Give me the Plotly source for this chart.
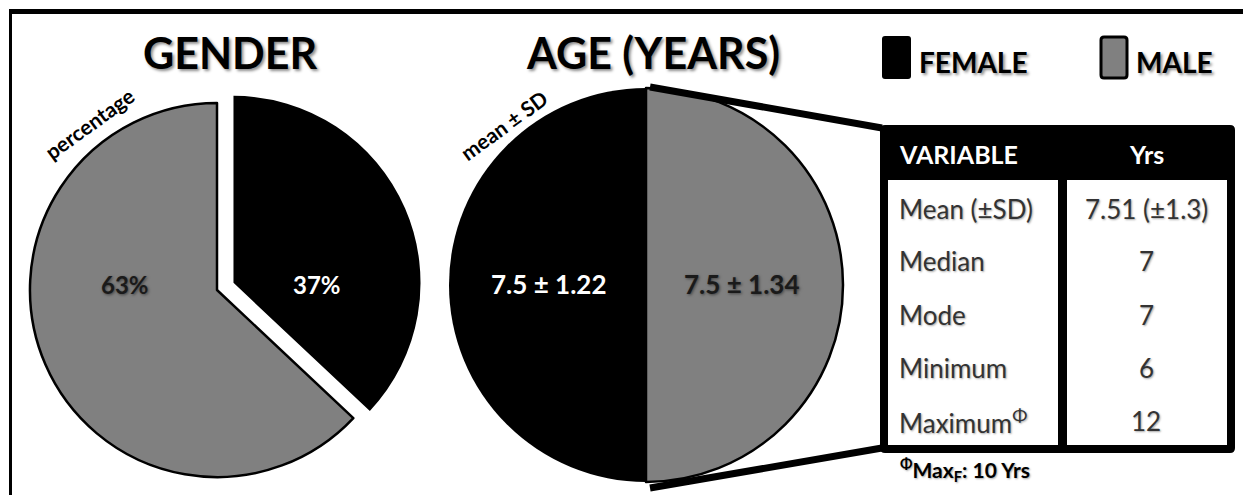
import plotly.graph_objects as go

# ---------------- data ----------------
gender_labels = ["FEMALE", "MALE"]
gender_pct = [37, 63]
age_labels = ["FEMALE", "MALE"]
age_mean = [7.5, 7.5]
age_sd = [1.22, 1.34]
table_header = ["VARIABLE", "Yrs"]
table_vars = ["Mean (±SD)", "Median", "Mode", "Minimum", "Maximum<sup>Φ</sup>"]
table_vals = ["7.51 (±1.3)", "7", "7", "6", "12"]
footnote = "<sup>Φ</sup>Max<sub>F</sub>: 10 Yrs"

FEMALE_C = "#000000"
MALE_C = "#808080"
FONT = "Lato"

W, H = 1243, 495


def X(p):
    return p / W


def Y(p):
    return 1 - p / H


fig = go.Figure()

# Gender pie (center ~ (217,290), r ~187, female slice pulled)
pull = 0.096
fig.add_trace(go.Pie(
    values=gender_pct, labels=gender_labels, sort=False, direction="clockwise",
    rotation=0, pull=[pull, 0], textinfo="none", showlegend=False,
    marker=dict(colors=[FEMALE_C, MALE_C], line=dict(color="black", width=[0, 2.5])),
    domain=dict(x=[X(12), X(422)], y=[Y(495), Y(85)]),
))

# Age pie (center ~ (646,285), r ~197); male drawn clockwise from 12 o'clock -> right half
fig.add_trace(go.Pie(
    values=age_mean[::-1], labels=age_labels[::-1], sort=False, direction="clockwise",
    rotation=0, textinfo="none", showlegend=False,
    marker=dict(colors=[MALE_C, FEMALE_C], line=dict(color="black", width=[2.5, 0])),
    domain=dict(x=[X(449), X(843)], y=[Y(482), Y(88)]),
))

shapes = []
ann = []

# outer frame
shapes.append(dict(type="line", xref="paper", yref="paper", x0=X(9), x1=X(1243), y0=Y(11.5), y1=Y(11.5),
                   line=dict(color="black", width=5)))
shapes.append(dict(type="line", xref="paper", yref="paper", x0=X(10.5), x1=X(10.5), y0=Y(10), y1=Y(495),
                   line=dict(color="black", width=3)))

# callout lines
shapes.append(dict(type="line", xref="paper", yref="paper", x0=X(650), y0=Y(87), x1=X(882), y1=Y(128),
                   line=dict(color="black", width=7), layer="above"))
shapes.append(dict(type="line", xref="paper", yref="paper", x0=X(650), y0=Y(488), x1=X(882), y1=Y(448),
                   line=dict(color="black", width=7), layer="above"))


def rrect(x0, y0, x1, y1, r):
    pts = (f"M {X(x0 + r)},{Y(y0)} L {X(x1 - r)},{Y(y0)} Q {X(x1)},{Y(y0)} {X(x1)},{Y(y0 + r)} "
           f"L {X(x1)},{Y(y1 - r)} Q {X(x1)},{Y(y1)} {X(x1 - r)},{Y(y1)} "
           f"L {X(x0 + r)},{Y(y1)} Q {X(x0)},{Y(y1)} {X(x0)},{Y(y1 - r)} "
           f"L {X(x0)},{Y(y0 + r)} Q {X(x0)},{Y(y0)} {X(x0 + r)},{Y(y0)} Z")
    return pts


# table frame
shapes.append(dict(type="path", xref="paper", yref="paper", path=rrect(880, 125, 1235, 453, 5),
                   fillcolor="black", line=dict(width=0), layer="above"))
shapes.append(dict(type="rect", xref="paper", yref="paper", x0=X(888), x1=X(1058), y0=Y(180), y1=Y(445),
                   fillcolor="white", line=dict(width=0), layer="above"))
shapes.append(dict(type="rect", xref="paper", yref="paper", x0=X(1067), x1=X(1227), y0=Y(180), y1=Y(445),
                   fillcolor="white", line=dict(width=0), layer="above"))

# legend squares
shapes.append(dict(type="path", xref="paper", yref="paper", path=rrect(882, 36, 911, 79, 3),
                   fillcolor=FEMALE_C, line=dict(width=0)))
shapes.append(dict(type="path", xref="paper", yref="paper", path=rrect(1101, 37, 1127, 78, 3),
                   fillcolor=MALE_C, line=dict(color="black", width=3)))

shadow = "2px 2px 3px rgba(0,0,0,0.45)"

# titles
ann.append(dict(text="<b>GENDER</b>", x=X(230), y=Y(52), font=dict(size=43, color="black", family=FONT, shadow=shadow)))
ann.append(dict(text="<b>AGE (YEARS)</b>", x=X(653), y=Y(52), font=dict(size=43, color="black", family=FONT, shadow=shadow)))

# legend text
ann.append(dict(text="<b>" + gender_labels[0] + "</b>", x=X(917), y=Y(62), xanchor="left",
                font=dict(size=28, color="black", family=FONT, shadow=shadow)))
ann.append(dict(text="<b>" + gender_labels[1] + "</b>", x=X(1134), y=Y(62), xanchor="left",
                font=dict(size=28, color="black", family=FONT, shadow=shadow)))

# rotated sublabels
ann.append(dict(text="<b>percentage</b>", x=X(89), y=Y(123), textangle=-36,
                font=dict(size=21, color="black", family=FONT)))
ann.append(dict(text="<b>mean ± SD</b>", x=X(503), y=Y(125), textangle=-36,
                font=dict(size=21, color="black", family=FONT)))

# pie labels
ann.append(dict(text=f"<b>{gender_pct[1]}%</b>", x=X(125), y=Y(284),
                font=dict(size=24, color="#1a1a1a", family=FONT, shadow="1px 1px 3px rgba(0,0,0,0.5)")))
ann.append(dict(text=f"<b>{gender_pct[0]}%</b>", x=X(317), y=Y(284),
                font=dict(size=24, color="white", family=FONT)))
ann.append(dict(text=f"<b>{age_mean[0]} ± {age_sd[0]:.2f}</b>", x=X(548), y=Y(284),
                font=dict(size=26, color="white", family=FONT)))
ann.append(dict(text=f"<b>{age_mean[1]} ± {age_sd[1]:.2f}</b>", x=X(741), y=Y(284),
                font=dict(size=26, color="#1a1a1a", family=FONT, shadow="1px 1px 3px rgba(0,0,0,0.5)")))

# table header
ann.append(dict(text="<b>" + table_header[0] + "</b>", x=X(897), y=Y(154), xanchor="left",
                font=dict(size=25, color="white", family=FONT)))
ann.append(dict(text="<b>" + table_header[1] + "</b>", x=X(1146), y=Y(154),
                font=dict(size=25, color="white", family=FONT)))

row_y = [209, 261, 315, 368, 421]
body_font = dict(size=26, color="#333333", family=FONT, shadow="1px 1px 2px rgba(0,0,0,0.35)")
for v, val, ry in zip(table_vars, table_vals, row_y):
    ann.append(dict(text=v, x=X(897), y=Y(ry), xanchor="left", font=body_font))
    ann.append(dict(text=val, x=X(1146), y=Y(ry), font=body_font))

ann.append(dict(text="<b>" + footnote + "</b>", x=X(898), y=Y(469), xanchor="left",
                font=dict(size=21, color="black", family=FONT, shadow="1px 1px 2px rgba(0,0,0,0.35)")))

for a in ann:
    a.update(xref="paper", yref="paper", showarrow=False)
    a.setdefault("xanchor", "center")
    a.setdefault("yanchor", "middle")

fig.update_layout(
    width=W, height=H, margin=dict(l=0, r=0, t=0, b=0),
    paper_bgcolor="white", plot_bgcolor="white",
    shapes=shapes, annotations=ann, showlegend=False,
)

fig.write_html("out.html", config={"displayModeBar": False},
               post_script="document.body.style.margin='0px';document.body.style.overflow='hidden';")
